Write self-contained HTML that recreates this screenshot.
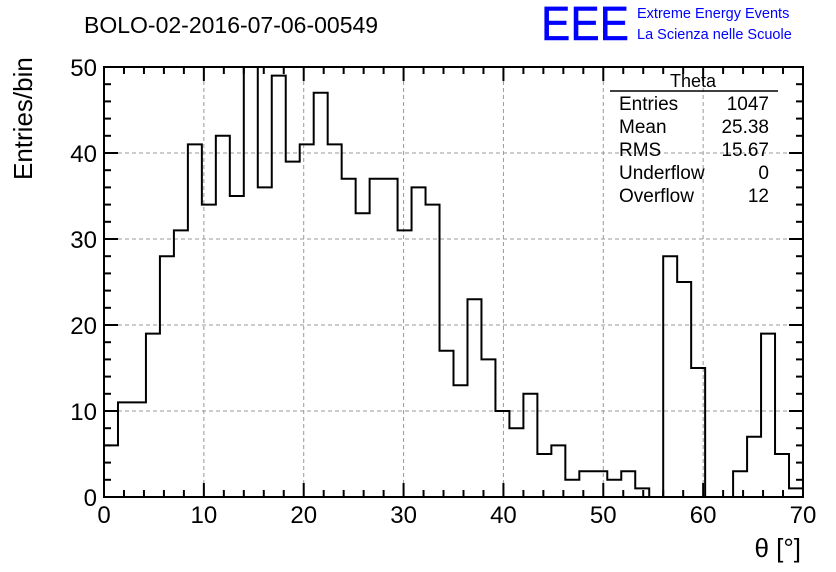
<!DOCTYPE html>
<html><head><meta charset="utf-8"><style>
body{margin:0;background:#fff;}
svg{display:block;font-family:"Liberation Sans",sans-serif;}
</style></head><body>
<svg id="c" width="836" height="572">
<text x="84" y="33" font-size="23">BOLO-02-2016-07-06-00549</text>
<text x="541" y="40" font-size="48" fill="#0000ff" stroke="#0000ff" stroke-width="0.5" textLength="88" lengthAdjust="spacingAndGlyphs">EEE</text>
<text x="637" y="18" font-size="14.5" fill="#0000ff">Extreme Energy Events</text>
<text x="637" y="39" font-size="14.5" fill="#0000ff">La Scienza nelle Scuole</text>
<text transform="translate(32,180) rotate(-90)" font-size="26">Entries/bin</text>
<text x="801" y="557" font-size="26" text-anchor="end">θ [°]</text>
<g id="grid"></g><g id="ticks"></g>
<path id="hist" fill="none" stroke="#000" stroke-width="2"/>
<rect x="104" y="67" width="699" height="430" fill="none" stroke="#000" stroke-width="2"/>
<g font-size="19">
<text x="693" y="87" text-anchor="middle" font-size="18">Theta</text>
<line x1="610" y1="91" x2="778" y2="91" stroke="#000" stroke-width="1.5"/>
<text x="619" y="110">Entries</text><text x="769" y="110" text-anchor="end">1047</text>
<text x="619" y="133">Mean</text><text x="769" y="133" text-anchor="end">25.38</text>
<text x="619" y="156">RMS</text><text x="769" y="156" text-anchor="end">15.67</text>
<text x="619" y="179">Underflow</text><text x="769" y="179" text-anchor="end">0</text>
<text x="619" y="202">Overflow</text><text x="769" y="202" text-anchor="end">12</text>
</g>
</svg>
<script>
const counts=[6,11,11,19,28,31,41,34,42,35,50,36,49,39,41,47,41,37,33,37,37,31,36,34,17,13,23,16,10,8,12,5,6,2,3,3,2,3,1,0,28,25,15,0,0,3,7,19,5,1];
const xTicks=[0,10,20,30,40,50,60,70];
const yTicks=[0,10,20,30,40,50];
const xMin=0,xMax=70,yMax=50;
const L=104,R=803,T=67,B=497;
const sx=v=>L+(v-xMin)/(xMax-xMin)*(R-L);
const sy=v=>B-v/yMax*(B-T);
const NS="http://www.w3.org/2000/svg";
function mk(tag,attrs,parent){const e=document.createElementNS(NS,tag);for(const k in attrs)e.setAttribute(k,attrs[k]);parent.appendChild(e);return e;}
const g=document.getElementById('grid'),t=document.getElementById('ticks'),svg=document.getElementById('c');
xTicks.forEach(v=>{
 if(v>xMin&&v<xMax){const l=mk('line',{x1:sx(v),x2:sx(v),y1:T,y2:B,stroke:'#999','stroke-dasharray':'4,3'},g);
 
 }
 const tx=mk('text',{x:sx(v),y:523,'font-size':24,'text-anchor':'middle'},svg);tx.textContent=v;
 
 
});
yTicks.forEach(v=>{
 if(v>0&&v<yMax){const l=mk('line',{x1:L,x2:R,y1:sy(v),y2:sy(v),stroke:'#999','stroke-dasharray':'4,3'},g);
 
 }
 const tx=mk('text',{x:97,y:sy(v)+9,'font-size':24,'text-anchor':'end'},svg);tx.textContent=v;
 
 
});
for(let v=xMin;v<=xMax;v+=2){const len=(v%10===0)?14:7;
 mk('line',{x1:sx(v),x2:sx(v),y1:B,y2:B-len,stroke:'#000','stroke-width':2},t);
 mk('line',{x1:sx(v),x2:sx(v),y1:T,y2:T+len,stroke:'#000','stroke-width':2},t);}
for(let v=0;v<=yMax;v+=2){const len=(v%10===0)?14:7;
 mk('line',{x1:L,x2:L+len,y1:sy(v),y2:sy(v),stroke:'#000','stroke-width':2},t);
 mk('line',{x1:R,x2:R-len,y1:sy(v),y2:sy(v),stroke:'#000','stroke-width':2},t);}
const w=(xMax-xMin)/counts.length;
let d='M'+sx(xMin)+','+sy(0);
counts.forEach((c,i)=>{d+=' L'+sx(xMin+i*w)+','+sy(c)+' L'+sx(xMin+(i+1)*w)+','+sy(c);});
d+=' L'+sx(xMax)+','+sy(0);
document.getElementById('hist').setAttribute('d',d);
</script>
</body></html>
